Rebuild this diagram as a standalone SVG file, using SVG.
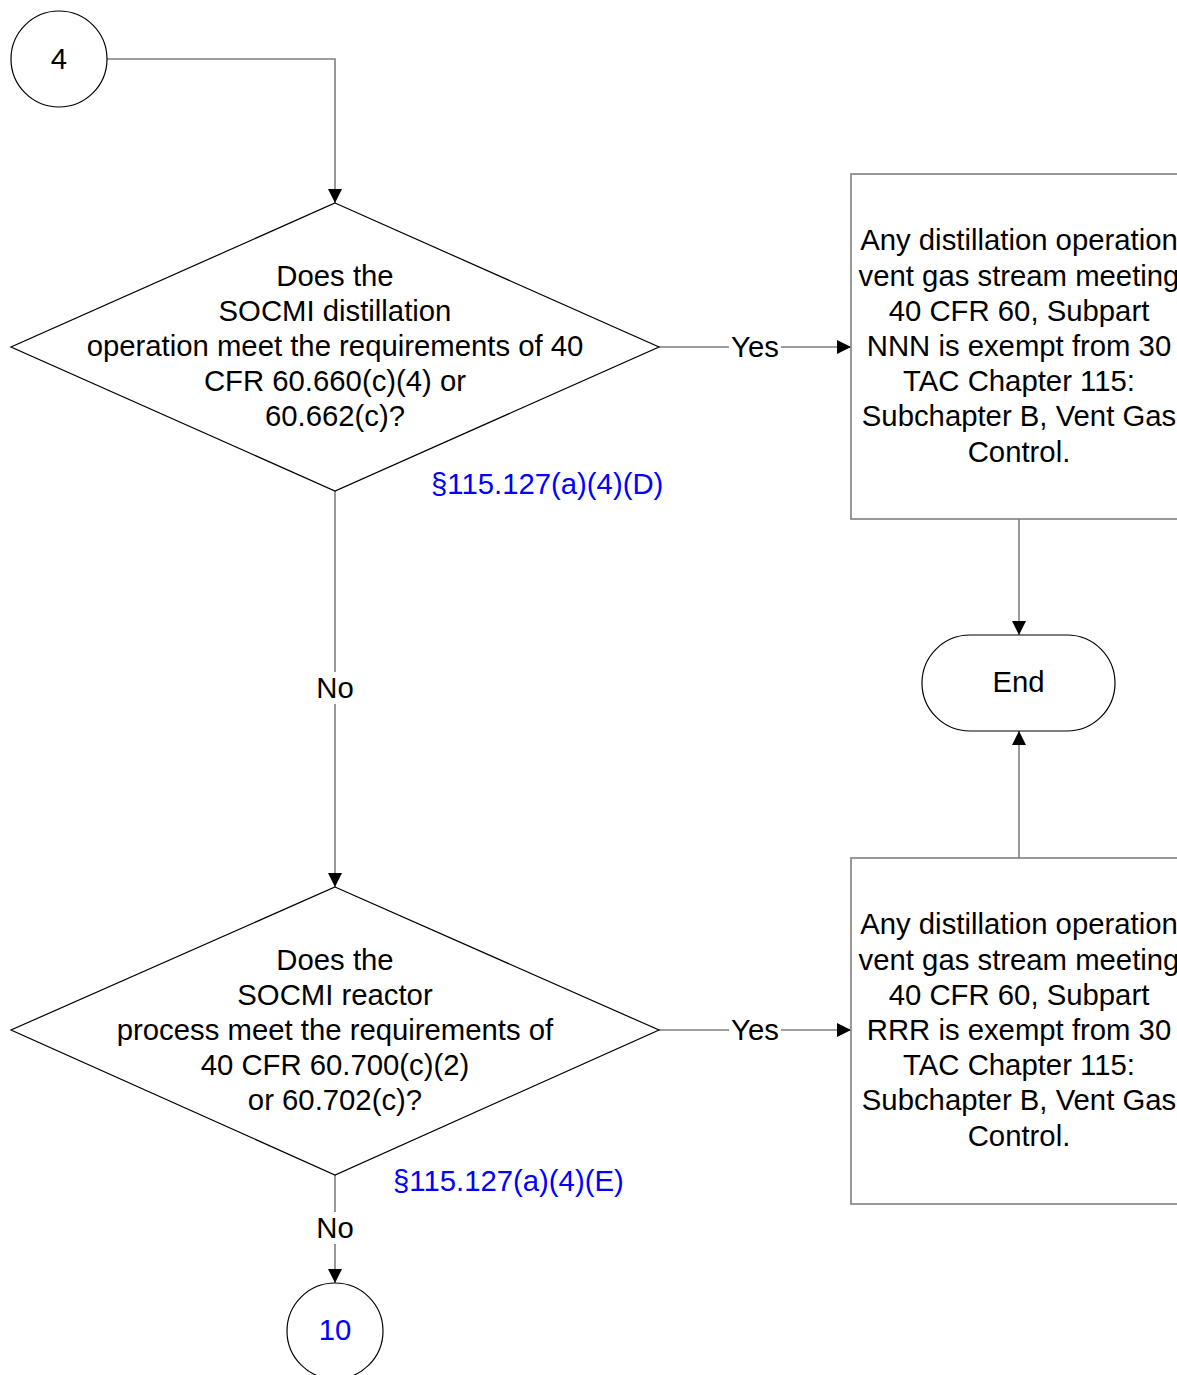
<svg xmlns="http://www.w3.org/2000/svg" width="1177" height="1375" viewBox="0 0 1177 1375">
<defs>
<style>
text{font-family:"Liberation Sans",Arial,sans-serif;font-size:29.3px;fill:#000;text-anchor:middle;dominant-baseline:central}
.ref{fill:#0000ff;text-anchor:start}
.blue{fill:#0000ff}
.shape{fill:#fff;stroke:#000;stroke-width:1.2}
.box{fill:#fff;stroke:#7f7f7f;stroke-width:1.6}
.conn{fill:none;stroke:#7f7f7f;stroke-width:1.6}
.lbl{fill:#fff;stroke:none}
</style>
<marker id="arr" viewBox="0 0 10 10" refX="10" refY="5" markerWidth="14" markerHeight="14" markerUnits="userSpaceOnUse" orient="auto">
<path d="M0,0 L10,5 L0,10 z" fill="#000"/>
</marker>
</defs>
<rect width="1177" height="1375" fill="#fff"/>
<g id="connectors">
<path class="conn" d="M107,59 H335 V203" marker-end="url(#arr)"/>
<path class="conn" d="M659,347 H851" marker-end="url(#arr)"/>
<path class="conn" d="M335,491 V887" marker-end="url(#arr)"/>
<path class="conn" d="M659,1030 H851" marker-end="url(#arr)"/>
<path class="conn" d="M335,1175 V1283" marker-end="url(#arr)"/>
<path class="conn" d="M1019,519 V635" marker-end="url(#arr)"/>
<path class="conn" d="M1019,858 V731" marker-end="url(#arr)"/>
<rect class="lbl" x="729" y="332" width="52" height="30"/>
<text x="755" y="346">Yes</text>
<rect class="lbl" x="729" y="1015" width="52" height="30"/>
<text x="755" y="1029">Yes</text>
<rect class="lbl" x="314" y="672" width="42" height="32"/>
<text x="335" y="687">No</text>
<rect class="lbl" x="314" y="1212" width="42" height="32"/>
<text x="335" y="1227">No</text>
</g>
<g id="n4">
<circle class="shape" cx="59" cy="59" r="48"/>
<text x="59" y="58">4</text>
</g>
<g id="d1">
<polygon class="shape" points="335,203 659,347 335,491 11,347"/>
<text x="335" y="275">Does the</text>
<text x="335" y="310">SOCMI distillation</text>
<text x="335" y="345">operation meet the requirements of 40</text>
<text x="335" y="380">CFR 60.660(c)(4) or</text>
<text x="335" y="415">60.662(c)?</text>
<text class="ref" x="431" y="483">§115.127(a)(4)(D)</text>
</g>
<g id="b1">
<rect class="box" x="851" y="174" width="336" height="345"/>
<text x="1019" y="239">Any distillation operation</text>
<text x="1019" y="275">vent gas stream meeting</text>
<text x="1019" y="310">40 CFR 60, Subpart</text>
<text x="1019" y="345">NNN is exempt from 30</text>
<text x="1019" y="380">TAC Chapter 115:</text>
<text x="1019" y="415">Subchapter B, Vent Gas</text>
<text x="1019" y="451">Control.</text>
</g>
<g id="end">
<rect class="shape" x="922" y="635" width="193" height="96" rx="48" ry="48"/>
<text x="1018.5" y="681">End</text>
</g>
<g id="d2">
<polygon class="shape" points="335,887 659,1030 335,1175 11,1030"/>
<text x="335" y="959">Does the</text>
<text x="335" y="994">SOCMI reactor</text>
<text x="335" y="1029">process meet the requirements of</text>
<text x="335" y="1064">40 CFR 60.700(c)(2)</text>
<text x="335" y="1099">or 60.702(c)?</text>
<text class="ref" x="393" y="1180">§115.127(a)(4)(E)</text>
</g>
<g id="b2">
<rect class="box" x="851" y="858" width="336" height="346"/>
<text x="1019" y="923">Any distillation operation</text>
<text x="1019" y="959">vent gas stream meeting</text>
<text x="1019" y="994">40 CFR 60, Subpart</text>
<text x="1019" y="1029">RRR is exempt from 30</text>
<text x="1019" y="1064">TAC Chapter 115:</text>
<text x="1019" y="1099">Subchapter B, Vent Gas</text>
<text x="1019" y="1135">Control.</text>
</g>
<g id="n10">
<circle class="shape" cx="335" cy="1331" r="48"/>
<text class="blue" x="335" y="1329">10</text>
</g>
</svg>
